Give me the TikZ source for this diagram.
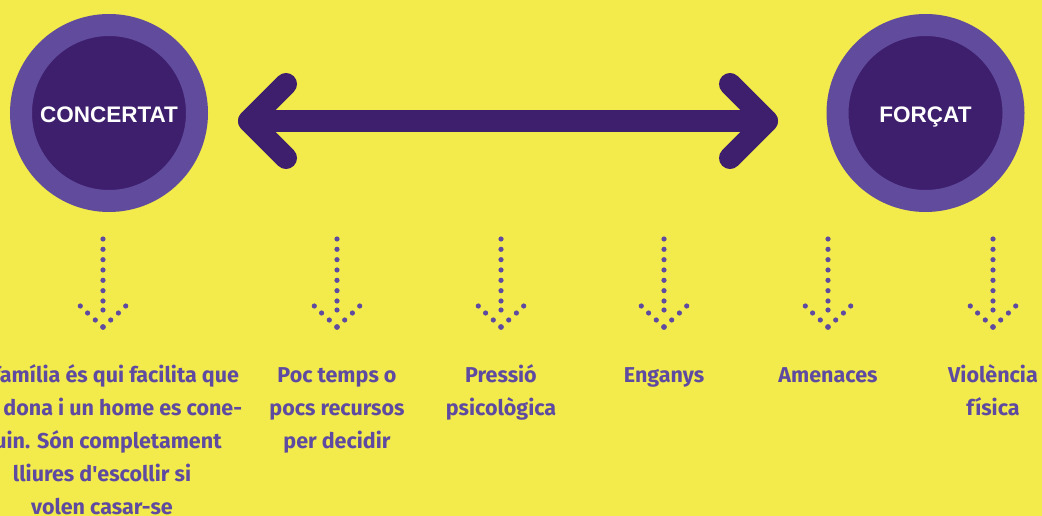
\documentclass[tikz,border=0pt]{standalone}
\usepackage{fontspec}
\usetikzlibrary{calc}
\setmainfont{Fira Sans}
\newfontfamily\titlefont{Liberation Sans}
\definecolor{bgyellow}{HTML}{F2EB4B}
\definecolor{ringpurple}{HTML}{614B9C}
\definecolor{discpurple}{HTML}{3E1F6D}
\definecolor{dotpurple}{HTML}{5E4AA0}

\newcommand\firstline{\rule{0pt}{23pt}}

\tikzset{
  pole/.style={circle, fill=discpurple, draw=ringpurple, line width=22pt,
    minimum size=176pt, inner sep=0pt, text=white, text height=20pt, text depth=0pt,
    font=\titlefont\bfseries\fontsize{22.5}{26}\selectfont},
  bigline/.style={draw=discpurple, line width=22pt, line cap=round, line join=round},
  itemtext/.style={text=dotpurple, font=\bfseries\fontsize{21.5}{33}\selectfont,
    align=center, anchor=north, inner sep=0pt}
}

\begin{document}
\begin{tikzpicture}[x=1pt,y=-1pt]
\fill[bgyellow] (0,0) rectangle (1042,516);
\useasboundingbox (0,0) rectangle (1042,516);

\node[pole] (concertat) at (109,113) {CONCERTAT};
\node[pole] (forcat) at (925.5,113) {FORÇAT};

\coordinate (ltip) at (249,121);
\coordinate (rtip) at (767,121);
\draw[bigline] (ltip) -- (rtip);
\draw[bigline] (ltip) ++(37,-37) -- (ltip) -- ++(37,37);
\draw[bigline] (rtip) ++(-37,-37) -- (rtip) -- ++(-37,37);

\foreach \x [count=\i] in {103,337,501,664,828,993}{
  \coordinate (col\i) at (\x,239);
  \foreach \k in {0,...,6}
    \fill[dotpurple] ($(col\i)+(0,{10.33*\k})$) circle (2.6pt);
  \fill[dotpurple] ($(col\i)+(0,71)$) circle (2.6pt);
  \fill[dotpurple] ($(col\i)+(0,88)$) circle (2.9pt);
  \foreach \s in {-1,1}{
    \fill[dotpurple] ($(col\i)+({22.7*\s},67)$) circle (2.6pt);
    \fill[dotpurple] ($(col\i)+({15.4*\s},74)$) circle (2.6pt);
    \fill[dotpurple] ($(col\i)+({7.7*\s},81)$) circle (2.6pt);
  }
}

\node[itemtext] (txt1) at (102,359) {\firstline\hphantom{La }família és qui facilita que\\
  \hphantom{una }dona i un home es cone-\\\hphantom{g}uin. Són completament\\
  lliures d\textquotesingle escollir si\\volen casar-se};
\node[itemtext] (txt2) at (337,359) {\firstline Poc temps o\\pocs recursos\\per decidir};
\node[itemtext] (txt3) at (501,359) {\firstline Pressió\\psicològica};
\node[itemtext] (txt4) at (664,359) {\firstline Enganys};
\node[itemtext] (txt5) at (828,359) {\firstline Amenaces};
\node[itemtext] (txt6) at (993,359) {\firstline Violència\\física};
\end{tikzpicture}
\end{document}
